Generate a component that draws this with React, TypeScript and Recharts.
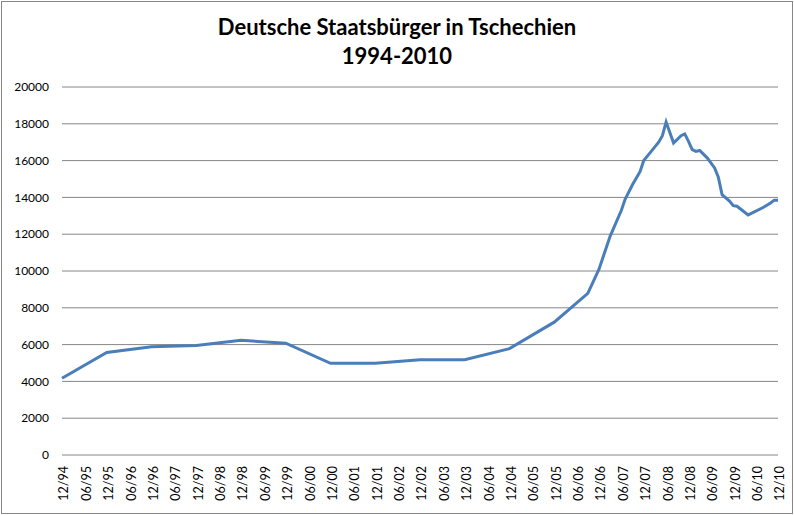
import React from 'react';
import { LineChart, Line, XAxis, YAxis, CartesianGrid } from 'recharts';

// months counted from 12/1994
const monthIndex = [
  0, 12, 24, 36, 48, 60, 72, 84, 96, 108, 120, 132,
  141, 144, 147, 150, 151, 153, 155, 156, 158, 160, 161, 162,
  164, 166, 167, 168, 169, 170, 171, 173, 175, 176, 177, 179,
  180, 181, 184, 188, 190, 191, 192,
];

const citizens = [
  4170, 5570, 5880, 5950, 6230, 6080, 4980, 4980, 5170, 5180, 5780, 7220,
  8780, 10100, 11900, 13300, 13900, 14700, 15400, 16000, 16500, 17000, 17350, 18100,
  16950, 17350, 17450, 17050, 16600, 16500, 16550, 16150, 15600, 15100, 14150, 13800,
  13550, 13520, 13050, 13450, 13700, 13850, 13850,
];

const tickLabels = [
  '12/94', '06/95', '12/95', '06/96', '12/96', '06/97', '12/97', '06/98', '12/98',
  '06/99', '12/99', '06/00', '12/00', '06/01', '12/01', '06/02', '12/02', '06/03',
  '12/03', '06/04', '12/04', '06/05', '12/05', '06/06', '12/06', '06/07', '12/07',
  '06/08', '12/08', '06/09', '12/09', '06/10', '12/10',
];

const yTicks = [0, 2000, 4000, 6000, 8000, 10000, 12000, 14000, 16000, 18000, 20000];

const data = monthIndex.map((m, i) => ({ month: m, value: citizens[i] }));
const xTicks = tickLabels.map((_, i) => i * 6);

const FONT = 'Lato, "Open Sans", sans-serif';

const RotatedTick = (props: any) => {
  const { x, y, payload } = props;
  const label = tickLabels[Math.round(payload.value / 6)];
  return (
    <g transform={`translate(${x + 2},${y + 3})`}>
      <text
        transform="rotate(-90)"
        textAnchor="end"
        dy="0.35em"
        x={0}
        y={0}
        fill="#000"
        fontSize={12.5}
        fontFamily={FONT}
      >
        {label}
      </text>
    </g>
  );
};

const App: React.FC = () => {
  return (
    <div style={{ position: 'absolute', left: 0, top: 0, width: 794, height: 516, background: '#fff' }}>
      <div
        style={{
          position: 'absolute',
          left: 1,
          top: 1,
          width: 790,
          height: 511,
          border: '1px solid #868686',
          pointerEvents: 'none',
        }}
      />
      <div
        style={{
          position: 'absolute',
          left: 0,
          top: 12,
          width: 794,
          textAlign: 'center',
          fontFamily: FONT,
          fontWeight: 700,
          fontSize: 22,
          lineHeight: '29px',
          color: '#000',
        }}
      >
        Deutsche Staatsbürger in Tschechien
        <br />
        1994-2010
      </div>
      <LineChart
        width={794}
        height={516}
        data={data}
        margin={{ top: 87, right: 16, left: 0, bottom: 0 }}
      >
        <CartesianGrid vertical={false} stroke="#868686" strokeWidth={1} />
        <XAxis
          dataKey="month"
          type="number"
          domain={[0, 192]}
          ticks={xTicks}
          interval={0}
          axisLine={false}
          tickLine={false}
          height={61}
          tick={<RotatedTick />}
        />
        <YAxis
          domain={[0, 20000]}
          ticks={yTicks}
          interval={0}
          axisLine={false}
          tickLine={false}
          width={62}
          tickMargin={7}
          tick={{ fill: '#000', fontSize: 12, fontFamily: FONT }}
        />
        <Line
          type="linear"
          dataKey="value"
          stroke="#4A7EBB"
          strokeWidth={3}
          dot={false}
          isAnimationActive={false}
        />
      </LineChart>
    </div>
  );
};

export default App;
